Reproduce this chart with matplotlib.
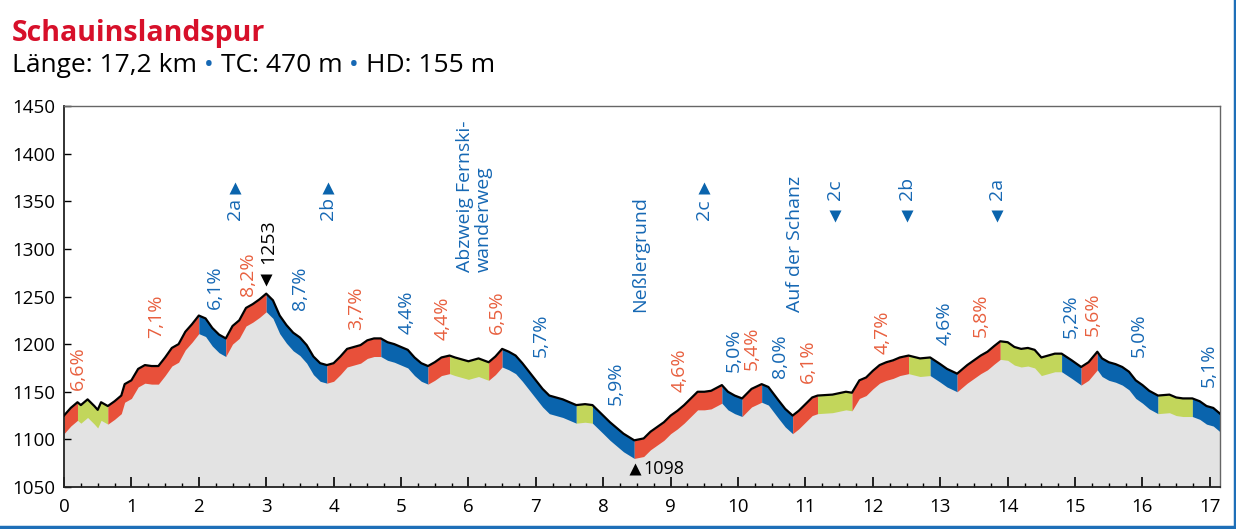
import numpy as np
import matplotlib
matplotlib.use("Agg")
import matplotlib.pyplot as plt
from matplotlib.lines import Line2D
from matplotlib.ticker import MultipleLocator

plt.rcParams['font.family'] = ['Open Sans', 'DejaVu Sans']

# elevation profile (km, m)
km = [0.0, 0.1, 0.2, 0.25, 0.35, 0.45, 0.5, 0.55, 0.65, 0.75, 0.85, 0.9, 1.0, 1.1, 1.2, 1.3, 1.4,
      1.5, 1.6, 1.7, 1.8, 1.9, 2.0, 2.1, 2.2, 2.3, 2.4, 2.5, 2.6, 2.7, 2.8, 2.9, 3.0, 3.1, 3.2,
      3.3, 3.4, 3.5, 3.6, 3.7, 3.8, 3.9, 4.0, 4.1, 4.2, 4.3, 4.4, 4.5, 4.6, 4.7, 4.8, 4.9, 5.0,
      5.1, 5.2, 5.3, 5.4, 5.5, 5.6, 5.72, 5.8, 5.9, 6.0, 6.15, 6.3, 6.4, 6.5, 6.6, 6.7, 6.8,
      6.9, 7.0, 7.1, 7.2, 7.3, 7.4, 7.5, 7.6, 7.73, 7.84, 8.0, 8.1, 8.2, 8.3, 8.46, 8.6, 8.7,
      8.8, 8.9, 9.0, 9.1, 9.2, 9.3, 9.4, 9.5, 9.6, 9.76, 9.85, 9.95, 10.06, 10.2, 10.35, 10.45,
      10.6, 10.7, 10.81, 10.9, 11.0, 11.1, 11.18, 11.4, 11.6, 11.69, 11.8, 11.9, 12.0, 12.1,
      12.2, 12.3, 12.4, 12.53, 12.7, 12.85, 13.0, 13.1, 13.25, 13.4, 13.5, 13.6, 13.7, 13.8,
      13.89, 14.0, 14.1, 14.2, 14.3, 14.4, 14.5, 14.6, 14.7, 14.8, 14.95, 15.09, 15.2, 15.33,
      15.4, 15.5, 15.6, 15.7, 15.8, 15.9, 16.0, 16.1, 16.23, 16.4, 16.5, 16.6, 16.74, 16.85,
      16.95, 17.05, 17.15]
elev = [1125, 1133, 1139, 1136, 1142, 1135, 1131, 1139, 1135, 1140, 1146, 1158, 1162, 1174,
        1178, 1177, 1177, 1186, 1196, 1200, 1213, 1221, 1230, 1227, 1217, 1210, 1206, 1219,
        1225, 1238, 1242, 1247, 1253, 1246, 1230, 1220, 1212, 1207, 1199, 1187, 1180, 1178,
        1180, 1187, 1195, 1197, 1199, 1204, 1206, 1206, 1202, 1200, 1197, 1194, 1186, 1180,
        1177, 1181, 1186, 1188, 1186, 1184, 1182, 1185, 1181, 1187, 1195, 1192, 1188, 1180,
        1171, 1162, 1153, 1146, 1144, 1142, 1139, 1136, 1137, 1136, 1125, 1118, 1112, 1106,
        1099, 1101, 1108, 1113, 1118, 1125, 1130, 1136, 1143, 1150, 1150, 1151, 1157, 1150,
        1146, 1143, 1153, 1158, 1155, 1141, 1132, 1125, 1130, 1137, 1144, 1146, 1147, 1150,
        1149, 1162, 1165, 1172, 1178, 1181, 1183, 1186, 1188, 1185, 1186, 1179, 1174, 1169,
        1178, 1183, 1188, 1192, 1198, 1203, 1202, 1197, 1195, 1196, 1194, 1186, 1188, 1190,
        1190, 1183, 1176, 1181, 1192, 1185, 1181, 1179, 1176, 1171, 1162, 1157, 1151, 1146,
        1147, 1144, 1143, 1143, 1140, 1135, 1133, 1127]

# gradient sections: start km and kind (up / down / flat)
seg_start = [0.0, 0.2, 0.65, 2.0, 2.4, 3.0, 3.9, 4.7, 5.4, 5.72, 6.3, 6.5, 7.6, 7.84, 8.46,
             9.76, 10.06, 10.35, 10.81, 11.18, 11.69, 12.53, 12.85, 13.25, 13.89, 14.8,
             15.09, 15.33, 16.23, 16.74]
seg_kind = ['up', 'flat', 'up', 'down', 'up', 'down', 'up', 'down', 'up', 'flat', 'up', 'down',
            'flat', 'down', 'up', 'down', 'up', 'down', 'up', 'flat', 'up', 'flat', 'down',
            'up', 'flat', 'down', 'up', 'down', 'flat', 'down']

# gradient labels
pct_text = ['6,6%', '7,1%', '6,1%', '8,2%', '8,7%', '3,7%', '4,4%', '4,4%', '6,5%', '5,7%',
            '5,9%', '4,6%', '5,0%', '5,4%', '8,0%', '6,1%', '4,7%', '4,6%', '5,8%', '5,2%',
            '5,6%', '5,0%', '5,1%']
pct_km = [0.2, 1.36, 2.24, 2.73, 3.5, 4.33, 5.09, 5.61, 6.42, 7.08, 8.19, 9.13, 9.93, 10.2,
          10.62, 11.04, 12.14, 13.06, 13.6, 14.94, 15.26, 15.94, 16.99]
pct_elev = [1152, 1206, 1237, 1251, 1236, 1215, 1211, 1204, 1211, 1187, 1136, 1150, 1171,
            1173, 1164, 1159, 1190, 1199, 1208, 1206, 1209, 1187, 1155]
pct_kind = ['up', 'up', 'down', 'up', 'down', 'up', 'down', 'up', 'up', 'down', 'down', 'up',
            'down', 'up', 'down', 'up', 'up', 'down', 'up', 'down', 'up', 'down', 'down']

# place names
place_text = ['Abzweig Fernski-\nwanderweg', 'Neßlergrund', 'Auf der Schanz']
place_km = [6.09, 8.54, 10.84]
place_elev = [1276, 1234, 1234]

# route markers (outbound = arrow up, return = arrow down)
route_text = ['2a', '2b', '2c', '2c', '2b', '2a']
route_km = [2.53, 3.92, 9.49, 11.44, 12.5, 13.84]
route_dir = ['out', 'out', 'out', 'back', 'back', 'back']

top_km, top_elev = 3.0, 1253
low_km, low_elev = 8.47, 1098

RED = '#E8503A'
BLUE = '#0A64AD'
GREEN = '#C2D65B'
GREY = '#E3E3E3'
TXT_RED = '#E8603F'
TXT_BLUE = '#1668B4'
kind_col = {'up': RED, 'down': BLUE, 'flat': GREEN}
band = 19

km = np.array(km)
elev = np.array(elev)
x_end = km[-1]

fig = plt.figure(figsize=(12.36, 5.29), dpi=100)
ax = fig.add_axes([64 / 1236, 1 - 487 / 529, (1220 - 64) / 1236, (487 - 106) / 529])

ax.fill_between(km, 1050, elev, color=GREY, lw=0, zorder=1)
seg_end = seg_start[1:] + [x_end]
for a, b, k in zip(seg_start, seg_end, seg_kind):
    m = (km >= a - 1e-9) & (km <= b + 1e-9)
    ax.fill_between(km[m], elev[m] - band, elev[m], color=kind_col[k], lw=0, zorder=2)
ax.plot(km, elev, color='black', lw=1.6, zorder=3, solid_joinstyle='round')

for t, x, y, k in zip(pct_text, pct_km, pct_elev, pct_kind):
    ax.text(x, y, t, rotation=90, ha='center', va='bottom', fontsize=14,
            color=TXT_RED if k == 'up' else TXT_BLUE, zorder=4)

for t, x, y in zip(place_text, place_km, place_elev):
    ax.text(x, y, t, rotation=90, ha='center', va='bottom', fontsize=14,
            color=TXT_BLUE, multialignment='left', linespacing=1.0, zorder=4)

for t, x, d in zip(route_text, route_km, route_dir):
    if d == 'out':
        ax.text(x, 1330, t, rotation=90, ha='center', va='bottom', fontsize=14, color=TXT_BLUE)
        ax.plot(x, 1364, marker='^', ms=9, color=BLUE, mec='none')
    else:
        ax.text(x, 1351, t, rotation=90, ha='center', va='bottom', fontsize=14, color=TXT_BLUE)
        ax.plot(x, 1335, marker='v', ms=9, color=BLUE, mec='none')

ax.plot(top_km, 1267, marker='v', ms=8, color='black', mec='none', zorder=4)
ax.text(top_km + 0.03, 1284.5, str(top_elev), rotation=90, ha='center', va='bottom',
        fontsize=14, color='black')
ax.plot(low_km, 1068.5, marker='^', ms=8, color='black', mec='none', zorder=4)
ax.text(low_km + 0.12, 1068.5, str(low_elev), ha='left', va='center', fontsize=13,
        color='black')

ax.set_xlim(0, x_end)
ax.set_ylim(1050, 1450)
ax.xaxis.set_major_locator(MultipleLocator(1))
ax.xaxis.set_minor_locator(MultipleLocator(0.25))
ax.yaxis.set_major_locator(MultipleLocator(50))
ax.tick_params(axis='x', which='major', direction='in', length=7, width=1.2, labelsize=13.5, pad=8)
ax.tick_params(axis='x', which='minor', direction='in', length=3, width=1)
ax.tick_params(axis='y', which='major', direction='in', length=5, width=1, labelsize=13.5, pad=6)
ax.tick_params(top=False, right=False)
for s in ['top', 'right']:
    ax.spines[s].set_color('#666666')
    ax.spines[s].set_linewidth(1)
for s in ['left', 'bottom']:
    ax.spines[s].set_color('#222222')
    ax.spines[s].set_linewidth(1.3)

# title and summary line
fig.text(12 / 1236, 1 - 41 / 529, 'Schauinslandspur', fontsize=20.5, fontweight='bold',
         color='#D7102A', va='baseline')
renderer = fig.canvas.get_renderer()
parts = [('Länge: 17,2 km', 'black'), (' • ', TXT_BLUE), ('TC: 470 m', 'black'),
         (' • ', TXT_BLUE), ('HD: 155 m', 'black')]
x0 = 12
for t, c in parts:
    txt = fig.text(x0 / 1236, 1 - 72 / 529, t, fontsize=19, color=c, va='baseline')
    x0 = txt.get_window_extent(renderer).x1

# frame lines of the card
fig.add_artist(Line2D([1234.5 / 1236, 1234.5 / 1236], [0, 1], color='#1E6FB8', lw=2.5))
fig.add_artist(Line2D([0, 1], [2 / 529, 2 / 529], color='#1E6FB8', lw=2.5))

fig.savefig('out.png', dpi=100)
